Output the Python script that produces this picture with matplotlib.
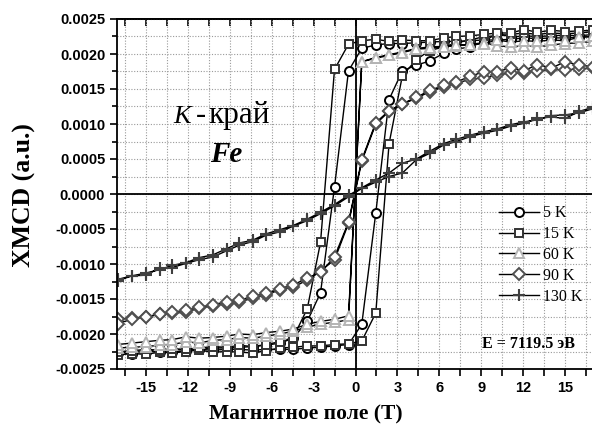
import matplotlib
matplotlib.use("Agg")
import matplotlib.pyplot as plt
import numpy as np
from matplotlib.ticker import MultipleLocator, FormatStrFormatter

# field grid (T), same for both sweep directions
H = [-17.0, -16.0, -15.0, -14.0, -13.1, -12.1, -11.2, -10.2, -9.2, -8.3, -7.35, -6.4,
     -5.4, -4.45, -3.45, -2.5, -1.5, -0.5, 0.45, 1.45, 2.4, 3.35, 4.35, 5.3,
     6.3, 7.2, 8.2, 9.2, 10.15, 11.1, 12.05, 13.0, 14.0, 15.0, 16.0, 17.0]

# XMCD in units of 1e-4; "up" = sweep -17 -> 17, "down" = sweep 17 -> -17 (listed in H order)
k5_up = [-22.7, -22.8, -22.6, -22.5, -22.6, -22.4, -22.2, -22.3, -22.2, -22.2, -22.3, -22.2,
         -22.2, -22.2, -22.0, -21.9, -21.7, -21.5, -18.6, -2.7, 13.5, 17.6, 18.4, 19.0,
         20.1, 20.7, 21.0, 21.8, 23.0, 22.4, 22.6, 22.5, 22.6, 22.7, 22.6, 22.8]
k5_down = [-22.6, -22.5, -22.4, -22.3, -22.3, -22.2, -22.1, -22.0, -22.0, -21.9, -21.8, -21.6,
           -21.3, -20.6, -18.2, -14.1, 1.0, 17.6, 20.8, 21.3, 21.5, 21.5, 21.6, 21.7,
           21.8, 21.8, 21.9, 22.0, 22.0, 22.1, 22.3, 22.2, 22.3, 22.3, 22.4, 22.5]
k15_up = [-23.0, -22.8, -22.9, -22.6, -22.7, -22.5, -22.3, -22.6, -22.5, -22.6, -22.7, -22.4,
          -22.0, -21.9, -21.7, -21.7, -21.5, -21.4, -21.0, -17.0, 7.2, 16.9, 19.2, 20.5,
          21.0, 21.6, 22.0, 22.5, 22.6, 22.8, 23.0, 22.8, 23.0, 22.9, 23.0, 23.2]
k15_down = [-22.5, -22.4, -22.2, -22.3, -22.1, -22.2, -22.0, -21.8, -21.9, -21.6, -21.8, -21.5,
            -21.1, -20.5, -16.4, -6.9, 17.8, 21.4, 21.9, 22.1, 21.8, 22.0, 21.9, 21.9,
            22.3, 22.5, 22.6, 22.8, 23.0, 23.0, 23.5, 23.1, 23.4, 23.2, 23.3, 23.4]
k60_up = [-22.0, -21.9, -21.8, -21.6, -21.5, -21.1, -21.3, -20.9, -20.8, -20.5, -20.6, -20.3,
          -20.0, -19.6, -19.0, -18.6, -18.3, -18.0, 18.9, 19.5, 19.9, 20.3, 20.8, 21.0,
          21.1, 21.2, 21.4, 21.6, 21.2, 21.0, 21.2, 21.0, 21.3, 21.5, 21.6, 21.8]
k60_down = [-21.5, -21.3, -21.1, -20.9, -20.8, -20.4, -20.6, -20.5, -20.3, -20.0, -20.1, -19.8,
            -19.6, -19.3, -18.6, -18.2, -17.9, -17.4, 18.9, 19.4, 19.8, 20.2, 20.7, 20.8,
            21.0, 21.3, 21.3, 21.5, 22.0, 21.7, 21.9, 21.8, 22.0, 21.9, 22.4, 22.5]
k90_up = [-17.9, -17.7, -17.6, -17.2, -17.0, -16.9, -16.3, -16.0, -15.7, -15.4, -14.9, -14.4,
          -13.7, -13.3, -12.3, -11.0, -9.4, -4.2, 4.7, 10.0, 11.8, 12.8, 13.7, 14.6,
          15.3, 15.8, 16.4, 16.6, 17.0, 17.3, 17.3, 17.6, 17.8, 17.7, 17.9, 18.0]
k90_down = [-18.5, -17.9, -17.5, -17.2, -16.9, -16.6, -16.2, -15.8, -15.4, -15.2, -14.6, -14.2,
            -13.5, -13.0, -12.0, -11.2, -9.0, -4.0, 4.9, 10.2, 11.9, 12.9, 13.8, 14.8,
            15.5, 16.0, 16.8, 17.5, 17.5, 18.0, 17.6, 18.5, 18.0, 18.9, 18.4, 18.2]
k130_up = [-12.4, -11.7, -11.6, -10.6, -10.5, -9.9, -9.4, -9.0, -8.1, -7.3, -6.8, -5.9,
           -5.4, -4.6, -3.8, -2.8, -1.7, -0.4, 0.8, 1.7, 2.5, 3.0, 4.9, 5.8,
           7.0, 7.5, 8.2, 8.7, 9.1, 9.7, 10.1, 10.8, 11.0, 10.8, 11.8, 12.4]
k130_down = [-12.2, -11.7, -11.3, -10.8, -10.2, -9.8, -9.1, -8.7, -7.8, -7.0, -6.6, -5.7,
             -5.1, -4.5, -3.6, -2.6, -1.5, -0.2, 0.9, 2.0, 3.0, 4.4, 5.0, 6.1,
             7.2, 7.8, 8.4, 8.9, 9.3, 9.9, 10.3, 10.6, 11.2, 11.3, 11.6, 12.2]

labels = ["5 K", "15 K", "60 K", "90 K", "130 K"]
ups = [k5_up, k15_up, k60_up, k90_up, k130_up]
downs = [k5_down, k15_down, k60_down, k90_down, k130_down]
markers = ["o", "s", "^", "D", "+"]
medge = ["black", "#333333", "#b4b4b4", "#505050", "#404040"]
msize = [6.5, 6.0, 7.0, 6.3, 9.0]

SERIF = "Liberation Serif"
SANS = "Liberation Sans"

fig = plt.figure(figsize=(5.92, 4.33), dpi=100)
ax = fig.add_axes([117/592, 1-369/433, 477/592, 350/433])

hx = np.array(H)
for lab, up, dn, m, ec, ms in zip(labels, ups, downs, markers, medge, msize):
    x = np.concatenate([hx, hx[::-1]])
    y = np.concatenate([np.array(up), np.array(dn)[::-1]]) * 1e-4
    ax.plot(x, y, color="black", lw=1.0, marker=m, ms=ms, mfc="white", mec=ec,
            mew=1.4 if m != "+" else 1.5, label=lab)

ax.axhline(0, color="black", lw=1.3, zorder=1)
ax.axvline(0, color="black", lw=1.3, zorder=1)

ax.set_xlim(-17.05, 17.05)
ax.set_ylim(-0.0025, 0.0025)
ax.xaxis.set_major_locator(MultipleLocator(3))
ax.xaxis.set_minor_locator(MultipleLocator(1.5))
ax.yaxis.set_major_locator(MultipleLocator(0.0005))
ax.yaxis.set_minor_locator(MultipleLocator(0.00025))
ax.yaxis.set_major_formatter(FormatStrFormatter("%.4f"))
ax.xaxis.set_major_formatter(FormatStrFormatter("%d"))
ax.grid(which="both", color="#9a9a9a", ls=(0, (1, 1.5)), lw=0.8, zorder=0)
ax.set_axisbelow(True)

for s in ax.spines.values():
    s.set_linewidth(1.3)
ax.spines["right"].set_visible(False)
ax.tick_params(which="both", direction="out", width=1.2, length=5, top=False)
ax.tick_params(which="minor", length=3.5)
ax.tick_params(axis="x", which="both", length=5)
sec = ax.secondary_xaxis("top")
sec.xaxis.set_major_locator(MultipleLocator(1.5))
sec.tick_params(direction="in", length=5, width=1.2, labeltop=False)
sec.spines["top"].set_linewidth(1.3)

for t in ax.get_xticklabels() + ax.get_yticklabels():
    t.set_fontfamily(SANS)
    t.set_fontweight("bold")
    t.set_fontsize(10.5)

leg = ax.legend(loc="upper left", bbox_to_anchor=(0.785, 0.49), frameon=False,
                numpoints=1, handlelength=2.5, handletextpad=0.2, labelspacing=0.3,
                borderpad=0, prop={"family": SERIF, "size": 11.5})

fig.text(191/592, 1-123/433, "K", ha="right", va="baseline", fontsize=19,
         family=SERIF, style="italic")
fig.text(196/592, 1-123/433, "-", ha="left", va="baseline", fontsize=22,
         family=SERIF)
fig.text(208/592, 1-123/433, "край", ha="left", va="baseline", fontsize=22.5,
         family=SERIF)
fig.text(226/592, 1-162/433, "Fe", ha="center", va="baseline", fontsize=21,
         family=SERIF, style="italic", weight="bold")
fig.text(575/592, 1-348/433, "E = 7119.5 эВ", ha="right", va="baseline", fontsize=11.5,
         family=SERIF, weight="bold")

fig.text(306/592, 1-419/433, "Магнитное поле (T)", ha="center", va="baseline",
         fontsize=15.5, family=SERIF, weight="bold")
fig.text(24/592, 1-195/433, "XMCD (a.u.)", ha="center", va="center", rotation=90,
         fontsize=18.5, family=SERIF, weight="bold")

fig.savefig("out.png", dpi=100)
